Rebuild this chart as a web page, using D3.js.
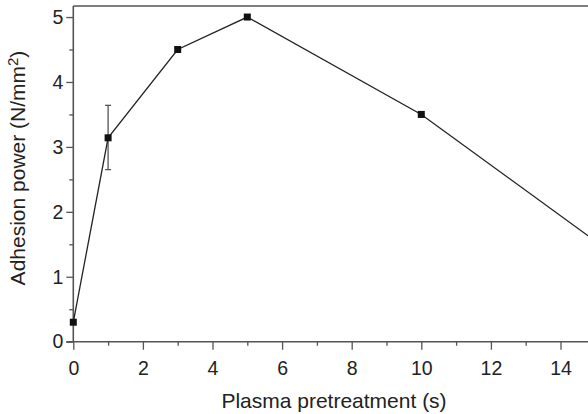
<!DOCTYPE html>
<html>
<head>
<meta charset="utf-8">
<script src="https://cdn.jsdelivr.net/npm/d3@7"></script>
<style>
  html, body { margin: 0; padding: 0; background: #fff; }
  svg { display: block; }
  text { font-family: "Liberation Sans", Arial, sans-serif; fill: #222; }
</style>
</head>
<body>
<svg id="chart" width="588" height="414"></svg>
<script>
// Adhesion power versus plasma pretreatment time
const times = [0, 1, 3, 5, 10, 15];
const adhesion = [0.3, 3.14, 4.5, 5.0, 3.5, 1.55];
const errLow = [null, 2.65, null, null, null, null];
const errHigh = [null, 3.64, null, null, null, null];
const xTicks = [0, 2, 4, 6, 8, 10, 12, 14];
const yTicks = [0, 1, 2, 3, 4, 5];
const xLabel = "Plasma pretreatment (s)";
const yLabelParts = ["Adhesion power (N/mm", "2", ")"];

const svg = d3.select("#chart");
const plotLeft = 73.3, plotBottom = 341.7, plotTop = 6;
const x = d3.scaleLinear().domain([0, 16]).range([plotLeft, plotLeft + 16 * 34.8]);
const y = d3.scaleLinear().domain([0, 5.17]).range([plotBottom, plotTop]);

const axisColor = "#555";
const fmt = d3.format("d");

// minor ticks
svg.append("g")
  .attr("transform", `translate(0,${plotBottom})`)
  .call(d3.axisBottom(x).tickValues(d3.range(1, 16, 2)).tickSize(4).tickFormat(""))
  .call(g => g.select(".domain").remove())
  .call(g => g.selectAll("line").attr("stroke", axisColor).attr("stroke-width", 1.3));
svg.append("g")
  .attr("transform", `translate(${plotLeft},0)`)
  .call(d3.axisLeft(y).tickValues(d3.range(0.5, 5, 1)).tickSize(4).tickFormat(""))
  .call(g => g.select(".domain").remove())
  .call(g => g.selectAll("line").attr("stroke", axisColor).attr("stroke-width", 1.3));

// major axes
const xAxis = svg.append("g")
  .attr("transform", `translate(0,${plotBottom})`)
  .call(d3.axisBottom(x).tickValues(xTicks).tickFormat(fmt).tickSize(8).tickPadding(11).tickSizeOuter(0));
const yAxis = svg.append("g")
  .attr("transform", `translate(${plotLeft},0)`)
  .call(d3.axisLeft(y).tickValues(yTicks).tickFormat(fmt).tickSize(7).tickPadding(3).tickSizeOuter(0));

[xAxis, yAxis].forEach(g => {
  g.select(".domain").attr("stroke", axisColor).attr("stroke-width", 1.6);
  g.selectAll(".tick line").attr("stroke", axisColor).attr("stroke-width", 1.3);
  g.selectAll(".tick text").style("font-size", "19.5px").attr("fill", "#222");
});
// x axis line runs from the y=0 tick outward
xAxis.select(".domain").attr("d", `M${plotLeft - 7},0H${x(16)}`);
yAxis.select(".domain").attr("d", `M0,${plotBottom}V${plotTop}`);

// top frame
svg.append("line")
  .attr("x1", plotLeft).attr("x2", x(16))
  .attr("y1", plotTop).attr("y2", plotTop)
  .attr("stroke", axisColor).attr("stroke-width", 1.6);

// error bars
const errIdx = d3.range(times.length).filter(i => errLow[i] !== null);
const eb = svg.append("g").attr("stroke", "#555").attr("stroke-width", 1.3);
errIdx.forEach(i => {
  eb.append("line").attr("x1", x(times[i])).attr("x2", x(times[i]))
    .attr("y1", y(errLow[i])).attr("y2", y(errHigh[i]));
  [errLow[i], errHigh[i]].forEach(v => {
    eb.append("line").attr("x1", x(times[i]) - 3).attr("x2", x(times[i]) + 3)
      .attr("y1", y(v)).attr("y2", y(v));
  });
});

// data line
const pts = times.map((t, i) => [t, adhesion[i]]);
svg.append("path")
  .datum(pts)
  .attr("fill", "none")
  .attr("stroke", "#222")
  .attr("stroke-width", 1.3)
  .attr("d", d3.line().x(d => x(d[0])).y(d => y(d[1])));

// square markers
svg.append("g").selectAll("rect")
  .data(pts)
  .join("rect")
  .attr("x", d => x(d[0]) - 3.5)
  .attr("y", d => y(d[1]) - 3.5)
  .attr("width", 7).attr("height", 7)
  .attr("fill", "#111");

// axis titles
svg.append("text")
  .attr("x", 334).attr("y", 408)
  .attr("text-anchor", "middle")
  .style("font-size", "21px")
  .text(xLabel);
const yt = svg.append("text")
  .attr("transform", "translate(25,168) rotate(-90)")
  .attr("text-anchor", "middle")
  .style("font-size", "21px");
yt.append("tspan").text(yLabelParts[0]);
yt.append("tspan").attr("dy", -7).style("font-size", "15px").text(yLabelParts[1]);
yt.append("tspan").attr("dy", 7).text(yLabelParts[2]);
</script>
</body>
</html>
